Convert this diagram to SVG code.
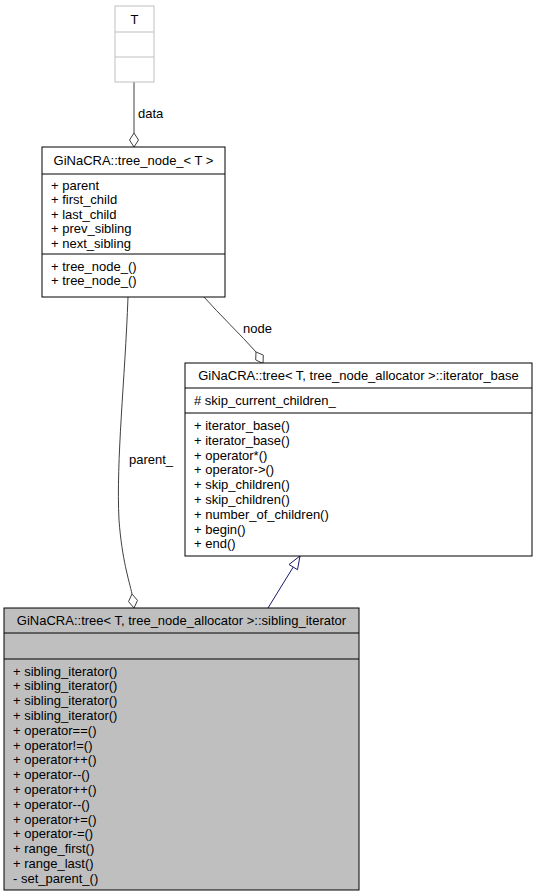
<svg xmlns="http://www.w3.org/2000/svg" width="537" height="896" viewBox="0 0 537 896">
<style>
text{font-family:"Liberation Sans",Arial,Helvetica,sans-serif;font-size:13px;fill:#000}
.c{text-anchor:middle}
.box{fill:#fff;stroke:#000;stroke-width:1}
.gbox{fill:#fff;stroke:#bfbfbf;stroke-width:1}
.sel{fill:#bfbfbf;stroke:#000;stroke-width:1}
.div{stroke:#000;stroke-width:1}
.gdiv{stroke:#bfbfbf;stroke-width:1}
.assoc{fill:none;stroke:#404040;stroke-width:1}
.dia{fill:#fff;stroke:#404040;stroke-width:1}
.inh{fill:none;stroke:#191970;stroke-width:1}
.tri{fill:#fff;stroke:#191970;stroke-width:1}
</style>
<rect width="537" height="896" fill="#fff"/>
<g id="edges">
<path class="assoc" d="M134,82 L134,133"/>
<polygon class="dia" points="134,133 138.5,140 134,147 129.5,140"/>
<text x="138" y="117.5">data</text>
<path class="assoc" d="M204,297 C220,315 240,334 256,352"/>
<polygon class="dia" points="256,352 263.3,355.1 263,363.5 255.7,359.9"/>
<text x="243" y="333">node</text>
<path class="assoc" d="M128,297 C125,380 116,460 119,520 C122,560 129,580 132,594"/>
<polygon class="dia" points="132,594 137.5,600.4 134,608 128.5,601.6"/>
<text x="129" y="463.5">parent_</text>
<path class="inh" d="M268,608 L293.2,567.1"/>
<polygon class="tri" points="300,556 297.5,569.7 289,564.5"/>
</g>
<g id="node_T">
<rect class="gbox" x="115" y="6" width="39" height="76"/>
<line class="gdiv" x1="115" y1="32" x2="154" y2="32"/>
<line class="gdiv" x1="115" y1="57" x2="154" y2="57"/>
<text class="c" x="134.5" y="23.5">T</text>
</g>
<g id="node_tree_node">
<rect class="box" x="42" y="147" width="183" height="150"/>
<line class="div" x1="42" y1="174" x2="225" y2="174"/>
<line class="div" x1="42" y1="254" x2="225" y2="254"/>
<text class="c" x="133.5" y="165">GiNaCRA::tree_node_&lt; T &gt;</text>
<text x="51" y="189.5">+ parent</text>
<text x="51" y="204">+ first_child</text>
<text x="51" y="218.5">+ last_child</text>
<text x="51" y="233">+ prev_sibling</text>
<text x="51" y="247.5">+ next_sibling</text>
<text x="51" y="270.5">+ tree_node_()</text>
<text x="51" y="285">+ tree_node_()</text>
</g>
<g id="node_iterator_base">
<rect class="box" x="185" y="363" width="347" height="193"/>
<line class="div" x1="185" y1="388" x2="532" y2="388"/>
<line class="div" x1="185" y1="413" x2="532" y2="413"/>
<text class="c" x="358.5" y="380">GiNaCRA::tree&lt; T, tree_node_allocator &gt;::iterator_base</text>
<text x="194" y="405"># skip_current_children_</text>
<text x="194" y="430">+ iterator_base()</text>
<text x="194" y="444.8">+ iterator_base()</text>
<text x="194" y="459.6">+ operator*()</text>
<text x="194" y="474.4">+ operator-&gt;()</text>
<text x="194" y="489.2">+ skip_children()</text>
<text x="194" y="504">+ skip_children()</text>
<text x="194" y="518.8">+ number_of_children()</text>
<text x="194" y="533.6">+ begin()</text>
<text x="194" y="548.4">+ end()</text>
</g>
<g id="node_sibling_iterator">
<rect class="sel" x="4" y="608" width="355" height="282"/>
<line class="div" x1="4" y1="633" x2="359" y2="633"/>
<line class="div" x1="4" y1="659" x2="359" y2="659"/>
<text class="c" x="181.5" y="625">GiNaCRA::tree&lt; T, tree_node_allocator &gt;::sibling_iterator</text>
<text x="13" y="675.5">+ sibling_iterator()</text>
<text x="13" y="690.3">+ sibling_iterator()</text>
<text x="13" y="705.1">+ sibling_iterator()</text>
<text x="13" y="719.9">+ sibling_iterator()</text>
<text x="13" y="734.7">+ operator==()</text>
<text x="13" y="749.5">+ operator!=()</text>
<text x="13" y="764.3">+ operator++()</text>
<text x="13" y="779.1">+ operator--()</text>
<text x="13" y="793.9">+ operator++()</text>
<text x="13" y="808.7">+ operator--()</text>
<text x="13" y="823.5">+ operator+=()</text>
<text x="13" y="838.3">+ operator-=()</text>
<text x="13" y="853.1">+ range_first()</text>
<text x="13" y="867.9">+ range_last()</text>
<text x="13" y="882.7">- set_parent_()</text>
</g>
</svg>
